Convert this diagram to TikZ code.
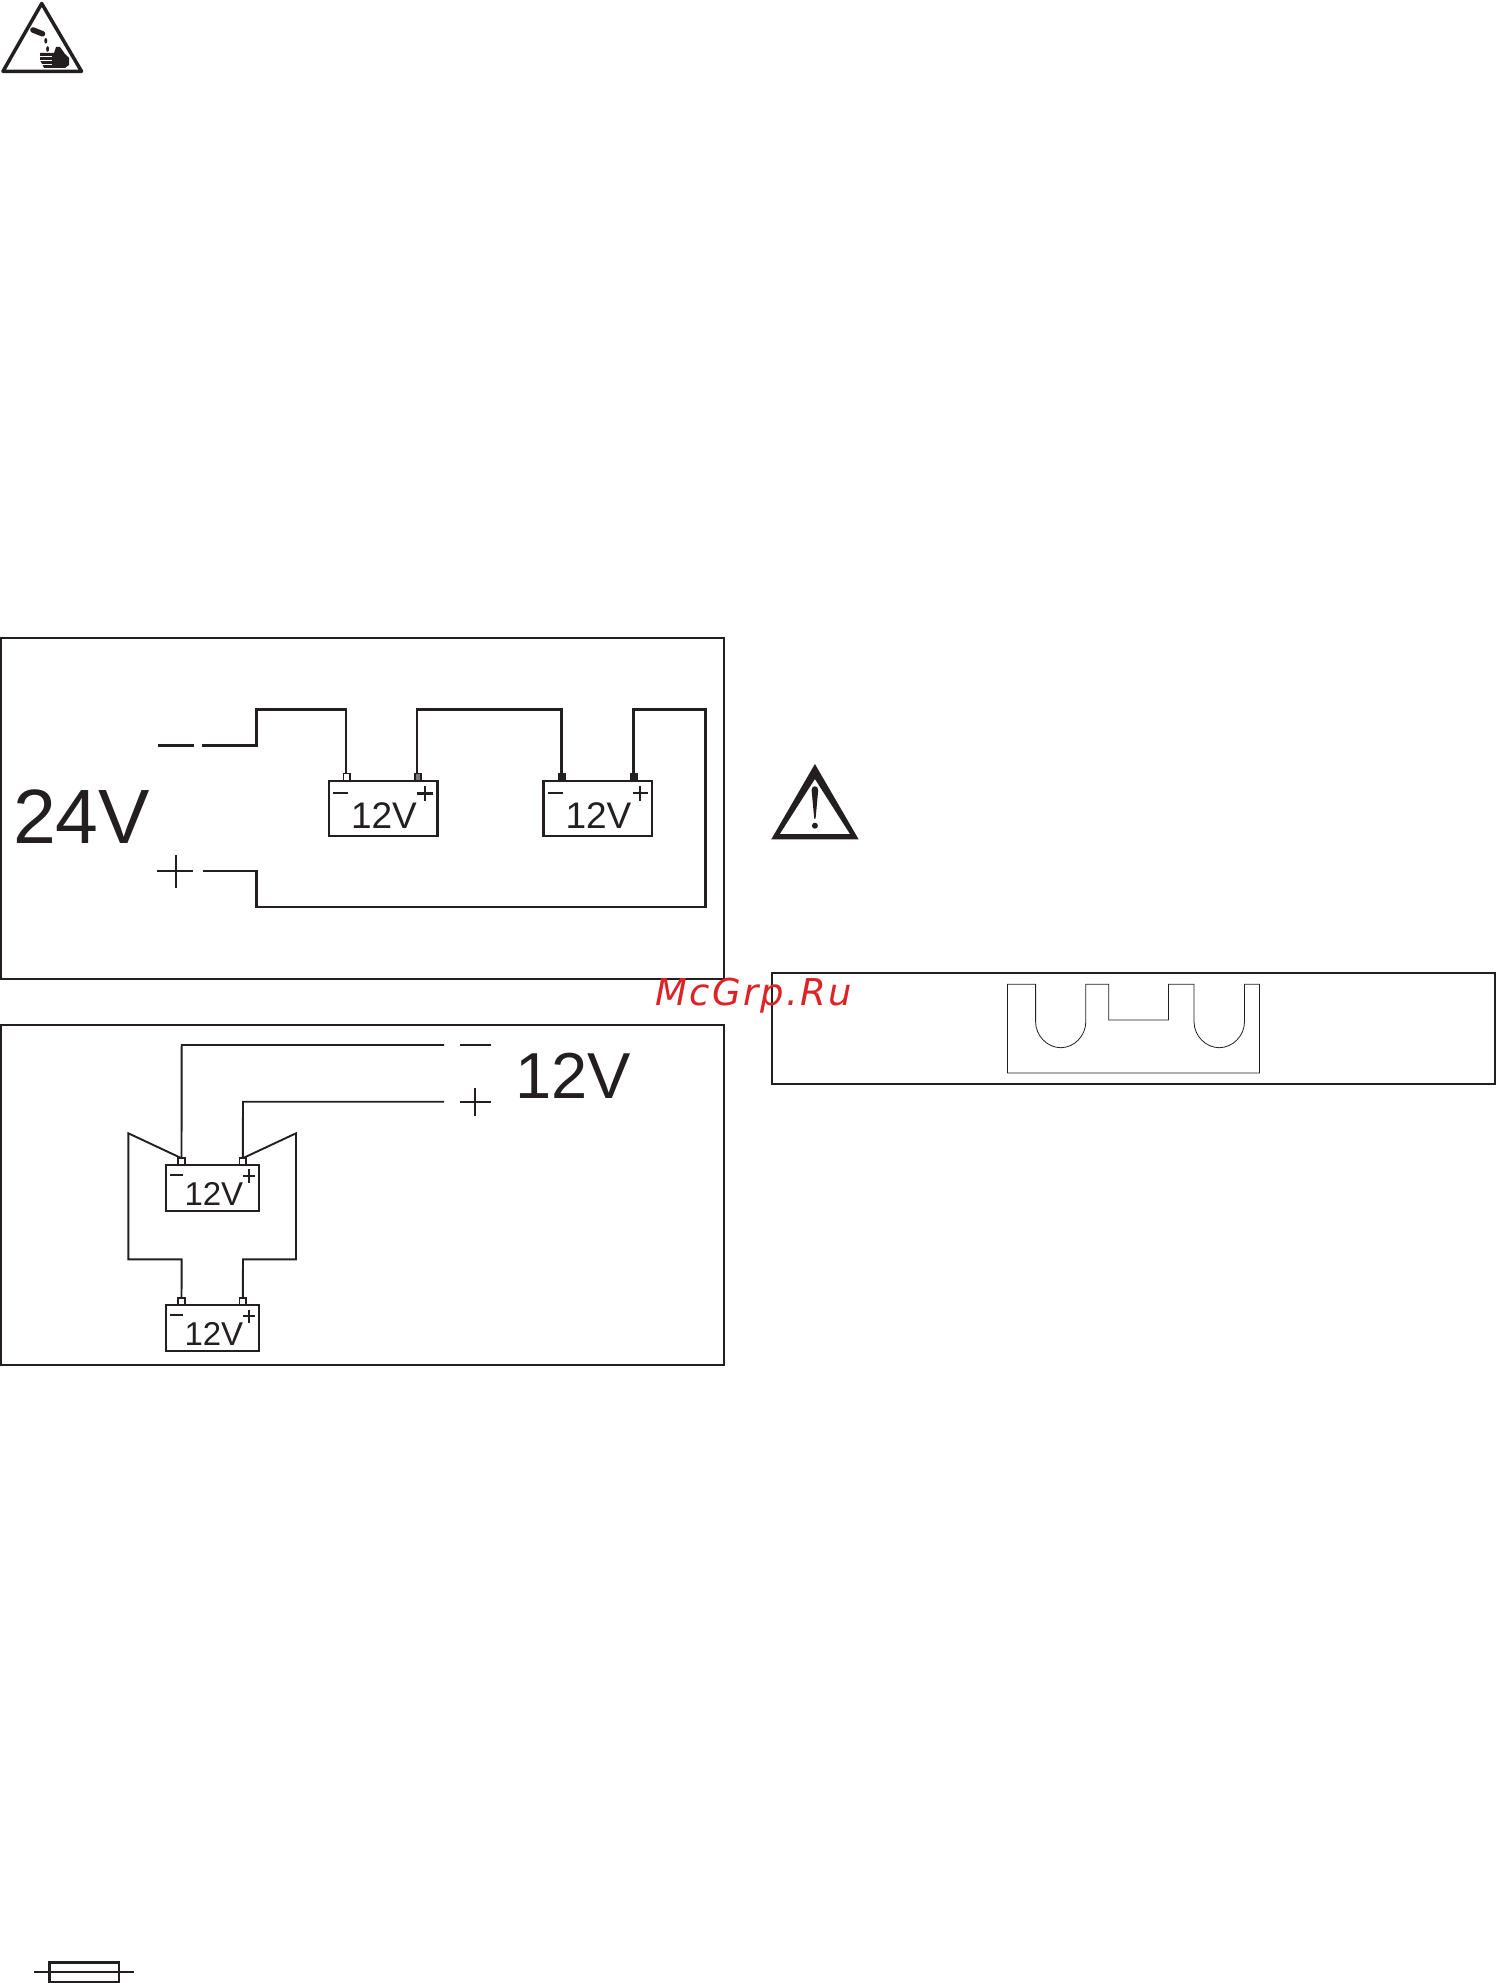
\documentclass[tikz,border=0pt]{standalone}
\usepackage{fontspec}
\setmainfont{Liberation Sans}
\newfontfamily\stampfont[LetterSpace=6.5]{DejaVu Sans}
\definecolor{ink}{HTML}{231F20}
\definecolor{stamp}{HTML}{DC2427}
\begin{document}
\begin{tikzpicture}
        [x=1pt, y=-1pt, ink,
        frame/.style={draw=ink, line width=1.9pt},
        wire/.style={draw=ink, line width=2.7pt, miter limit=10},
        wirethin/.style={draw=ink, line width=1.9pt},
        sign/.style={draw=ink, line width=2.4pt},
        batt/.style={draw=ink, line width=2.5pt, fill=white, minimum width=108.5pt, minimum height=55pt, inner sep=0pt, outer sep=0pt},
        battSmall/.style={draw=ink, line width=2pt, fill=white, minimum width=93pt, minimum height=46pt, inner sep=0pt, outer sep=0pt},
        term/.style={draw=ink, line width=1.6pt, fill=white, minimum width=6.5pt, minimum height=7pt, inner sep=0pt, outer sep=0pt},
        termFull/.style={term, fill=ink},
        label/.style={anchor=base west, inner sep=0pt, outer sep=0pt, text=ink}]
        \useasboundingbox (0,0) rectangle (1496,1983);

        % acid sign
        \draw[ink, line width=3.5pt, line join=round] (41.7,3.5) -- (81.5,71.3) -- (3,71.3) -- cycle;
        \draw[ink, line width=5.5pt, line cap=round] (33,30) -- (42.5,33.8);
        \fill[ink] (45.8,40.8) ellipse (1.5pt and 2.8pt);
        \fill[ink] (47.6,49) ellipse (1.5pt and 2.8pt);
        \fill[ink] (40,53) -- (54,53) -- (56,47) -- (60,47) -- (65,54) -- (69,58) -- (69,65) -- (65,68)
            -- (44,68) -- (42,64) -- (40,60) -- cycle;
        \draw[white, line width=0.8pt] (39,56) -- (52,56);
        \draw[white, line width=0.8pt] (39,60) -- (52,60);
        \draw[white, line width=0.8pt] (41,64) -- (52,64);

        % 24V box
        \draw[frame] (1,638) rectangle (724,978.7);
        \node[label, font=\fontsize{77}{77}\selectfont] (Lbig) at (13,843.5) {24V};
        \node[batt] (A) at (383,808.5) {};
        \node[batt] (B) at (597.5,808.5) {};
        \node[term] (Am) at (346.8,777) {};
        \node[term, fill=ink!60] (Ap) at (418,777) {};
        \node[termFull] (Bm) at (561.6,777) {};
        \node[termFull] (Bp) at (633.8,777) {};
        \node[label, font=\fontsize{37}{37}\selectfont] (La) at (351,828.3) {12V};
        \node[label, font=\fontsize{37}{37}\selectfont] (Lb) at (565.5,828.3) {12V};
        \coordinate (Wneg) at (202,745.3);
        \coordinate (Wpos) at (203,871);

        \draw[wire] (Wneg) -- (256.6,745.3) -- (256.6,709.3) -- (346,709.3);
        \draw[wirethin] (346,708) -- (346,773.5);
        \draw[wire] (Ap.north -| 417,0) -- (417,709.3) -- (561.6,709.3) -- (Bm.north);
        \draw[wire] (Bp.north -| 633.3,0) -- (633.3,709.3) -- (705.5,709.3) -- (705.5,907) -- (256.6,907) -- (256.6,871) -- (Wpos);

        \draw[sign] (158,745.3) -- (194,745.3);
        \draw[sign] (157,871) -- (193,871);
        \draw[sign, line width=2pt] (175.5,855) -- (175.5,888);
        \draw[sign] (333,793) -- (348,793);
        \draw[sign] (417,793.3) -- (432.5,793.3);
        \draw[sign] (424.7,786) -- (424.7,801);
        \draw[sign] (548,793) -- (563,793);
        \draw[sign, line width=1.8pt] (632.5,793.3) -- (647.5,793.3);
        \draw[sign, line width=1.8pt] (640,786) -- (640,801);

        % 12V box
        \draw[frame] (1,1025) rectangle (724,1365);
        \node[label, font=\fontsize{65}{65}\selectfont] (Lsmall) at (515,1098.3) {12V};
        \node[battSmall] (C) at (212.5,1188) {};
        \node[battSmall] (D) at (212.5,1328) {};
        \node[term] (Cm) at (181.5,1161.7) {};
        \node[term] (Cp) at (242.8,1161.7) {};
        \node[term] (Dm) at (181.5,1301.7) {};
        \node[term] (Dp) at (242.8,1301.7) {};
        \node[label, font=\fontsize{33}{33}\selectfont] (Lc) at (184.5,1205) {12V};
        \node[label, font=\fontsize{33}{33}\selectfont] (Ld) at (184.5,1345) {12V};
        \coordinate (Vneg) at (444,1045);
        \coordinate (Vpos) at (444,1101.7);

        \draw[wirethin] (Vneg) -- (181.7,1045) -- (Cm.north);
        \draw[wirethin] (Vpos) -- (243,1101.7) -- (Cp.north);
        \draw[wirethin] (Cm.north) -- (128.4,1133.3) -- (128.4,1259.3) -- (181.7,1259.3) -- (Dm.north);
        \draw[wirethin] (Cp.north) -- (296,1133.3) -- (296,1259.3) -- (243,1259.3) -- (Dp.north);

        \draw[sign] (460,1045) -- (491,1045);
        \draw[sign] (460,1101.7) -- (491,1101.7);
        \draw[sign, line width=2pt] (475.2,1088.3) -- (475.2,1115.7);
        \draw[sign] (170,1175) -- (183,1175);
        \draw[sign, line width=1.9pt] (242.5,1175.7) -- (255,1175.7);
        \draw[sign, line width=1.9pt] (248.7,1169) -- (248.7,1182.5);
        \draw[sign] (170,1315) -- (183,1315);
        \draw[sign, line width=1.9pt] (242.5,1316) -- (255,1316);
        \draw[sign, line width=1.9pt] (248.7,1309.5) -- (248.7,1322.5);

        % warning sign
        \fill[ink, even odd rule] (814.9,764) -- (858.6,839.3) -- (771.3,839.3) -- cycle
            (814.9,779) -- (779.8,834) -- (850,834) -- cycle;
        \fill[ink] (811.6,790) .. controls (811.6,785) and (818.2,785) .. (818.2,790) -- (815.6,818.5) -- (814.2,818.5) -- cycle;
        \fill[ink] (814.9,825.7) circle (3pt);

        % fork box
        \draw[frame] (771.7,972.7) rectangle (1495,1083.7);
        \draw[ink, line width=0.8pt] (1007.4,1073) -- (1007.4,984.3) -- (1035.6,984.3) -- (1035.6,1021.7)
            .. controls (1035.6,1036) and (1047.5,1047.7) .. (1060.7,1047.7)
            .. controls (1074,1047.7) and (1085.8,1036) .. (1085.8,1021.7)
            -- (1085.8,984.3) -- (1108.8,984.3) -- (1108.8,1020) -- (1168.5,1020) -- (1168.5,984.3) -- (1194,984.3) -- (1194,1021.7)
            .. controls (1194,1036) and (1206,1047.7) .. (1219.2,1047.7)
            .. controls (1232.5,1047.7) and (1244.5,1036) .. (1244.5,1021.7)
            -- (1244.5,984.3) -- (1259.5,984.3) -- (1259.5,1073) -- cycle;

        % fuse
        \draw[ink, line width=1.7pt] (34,1972) -- (134.3,1972);
        \draw[ink, line width=2.6pt] (49.5,1983.5) -- (49.5,1962.5) -- (119,1962.5) -- (119,1983.5);
        \draw[ink, line width=2.6pt] (49.5,1982.5) -- (119,1982.5);

        % stamp
        \node[label, text=stamp, font=\stampfont\itshape\fontsize{37}{37}\selectfont] (Mark) at (655,1005.7) {McGrp.Ru};
    \end{tikzpicture}
\end{document}
